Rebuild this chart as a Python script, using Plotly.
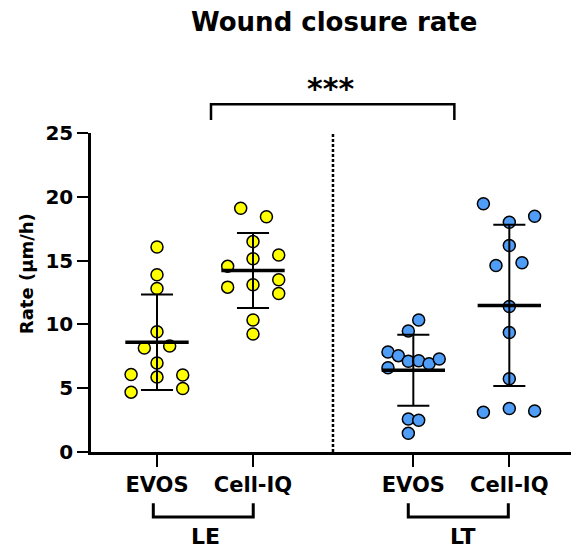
import numpy as np
import plotly.graph_objects as go

# ---- data ----
categories = ["EVOS", "Cell-IQ", "EVOS", "Cell-IQ"]
groups = ["LE", "LT"]
le_evos = [16.07, 13.89, 12.82, 9.43, 8.15, 8.31, 6.97, 6.08, 5.87, 6.03, 4.69, 4.98]
le_celliq = [19.10, 18.43, 16.49, 15.44, 15.15, 14.55, 13.11, 12.92, 13.50, 12.42, 10.35, 9.25]
lt_evos = [10.35, 9.49, 7.84, 7.55, 7.11, 7.15, 6.92, 7.29, 6.60, 2.59, 2.49, 1.47]
lt_celliq = [19.45, 18.48, 18.00, 16.19, 14.62, 14.83, 11.40, 9.36, 5.74, 3.12, 3.41, 3.22]
y_ticks = [0, 5, 10, 15, 20, 25]

# ---- layout helpers (positions / jitter, not data) ----
xpos = [1.0, 2.0, 3.67, 4.67]
jit = [
    [0, 0, 0, 0, -0.132, 0.132, 0, -0.27, 0, 0.268, -0.27, 0.268],
    [-0.128, 0.14, 0, 0.268, 0, -0.264, 0, -0.264, 0.268, 0.268, 0, 0],
    [0.056, -0.052, -0.264, -0.156, -0.052, 0.056, 0.164, 0.27, -0.264, -0.052, 0.056, -0.052],
    [-0.27, 0.264, 0, 0, -0.139, 0.132, 0, 0, 0, -0.27, 0, 0.264],
]
series = [le_evos, le_celliq, lt_evos, lt_celliq]
colors = ["#FFFF00", "#FFFF00", "#4F9DF7", "#4F9DF7"]
FONT = "DejaVu Sans"

fig = go.Figure()
for i, vals in enumerate(series):
    v = np.array(vals)
    fig.add_trace(go.Scatter(
        x=[xpos[i] + j for j in jit[i]], y=v, mode="markers",
        marker=dict(size=12, color=colors[i], line=dict(color="black", width=1.5)),
        showlegend=False, hoverinfo="y"))
    m = v.mean()
    sd = v.std(ddof=1)
    c = xpos[i]
    # SD vertical
    fig.add_trace(go.Scatter(x=[c, c], y=[m - sd, m + sd], mode="lines",
                             line=dict(color="black", width=2), showlegend=False, hoverinfo="skip"))
    # SD caps
    for yy in (m - sd, m + sd):
        fig.add_trace(go.Scatter(x=[c - 0.167, c + 0.167], y=[yy, yy], mode="lines",
                                 line=dict(color="black", width=2), showlegend=False, hoverinfo="skip"))
    # mean
    fig.add_trace(go.Scatter(x=[c - 0.33, c + 0.33], y=[m, m], mode="lines",
                             line=dict(color="black", width=3.5), showlegend=False, hoverinfo="skip"))

shapes = [
    # dashed separator
    dict(type="line", xref="x", yref="y", x0=2.833, x1=2.833, y0=0, y1=25,
         line=dict(color="black", width=2.5, dash="3px,2px")),
    # significance bracket
    dict(type="path", xref="paper", yref="paper",
         path="M 0.25 1.041 L 0.25 1.09 L 0.757 1.09 L 0.757 1.041",
         line=dict(color="black", width=2.5)),
    # group brackets
    dict(type="path", xref="paper", yref="paper",
         path="M 0.1298 -0.161 L 0.1298 -0.204 L 0.338 -0.204 L 0.338 -0.161",
         line=dict(color="black", width=3)),
    dict(type="path", xref="paper", yref="paper",
         path="M 0.661 -0.161 L 0.661 -0.204 L 0.8694 -0.204 L 0.8694 -0.161",
         line=dict(color="black", width=3)),
]

annotations = [
    dict(text="<b>Wound closure rate</b>", xref="paper", yref="paper", x=0.506, y=1.348,
         xanchor="center", yanchor="middle", showarrow=False,
         font=dict(family=FONT, size=26, color="black")),
    dict(text="<b>***</b>", xref="paper", yref="paper", x=0.4985, y=1.14,
         xanchor="center", yanchor="middle", showarrow=False,
         font=dict(family=FONT, size=30, color="black")),
    dict(text="<b>Rate (µm/h)</b>", xref="paper", yref="paper", x=-0.133, y=0.558,
         xanchor="center", yanchor="middle", textangle=-90, showarrow=False,
         font=dict(family=FONT, size=18, color="black")),
    dict(text="<b>" + groups[0] + "</b>", xref="x", yref="paper", x=1.503, y=-0.265,
         xanchor="center", yanchor="middle", showarrow=False,
         font=dict(family=FONT, size=22, color="black")),
    dict(text="<b>" + groups[1] + "</b>", xref="x", yref="paper", x=4.18, y=-0.265,
         xanchor="center", yanchor="middle", showarrow=False,
         font=dict(family=FONT, size=22, color="black")),
]

fig.update_layout(
    width=571, height=552,
    margin=dict(l=91, r=0, t=133, b=100),
    paper_bgcolor="white", plot_bgcolor="white",
    shapes=shapes, annotations=annotations,
    xaxis=dict(range=[0.3125, 5.3125], showgrid=False, zeroline=False,
               showline=True, linecolor="black", linewidth=2.5,
               tickmode="array", tickvals=xpos, ticktext=["<b>" + c + "</b>" for c in categories],
               ticks="outside", ticklen=12, tickwidth=2, tickcolor="black",
               tickfont=dict(family=FONT, size=21, color="black")),
    yaxis=dict(range=[0, 25], showgrid=False, zeroline=False,
               showline=True, linecolor="black", linewidth=2.5,
               tickmode="array", tickvals=y_ticks, ticktext=["<b>%d</b>" % t for t in y_ticks],
               ticks="outside", ticklen=11, tickwidth=2, tickcolor="black",
               tickfont=dict(family=FONT, size=20, color="black")),
)

fig.write_html("out.html")
